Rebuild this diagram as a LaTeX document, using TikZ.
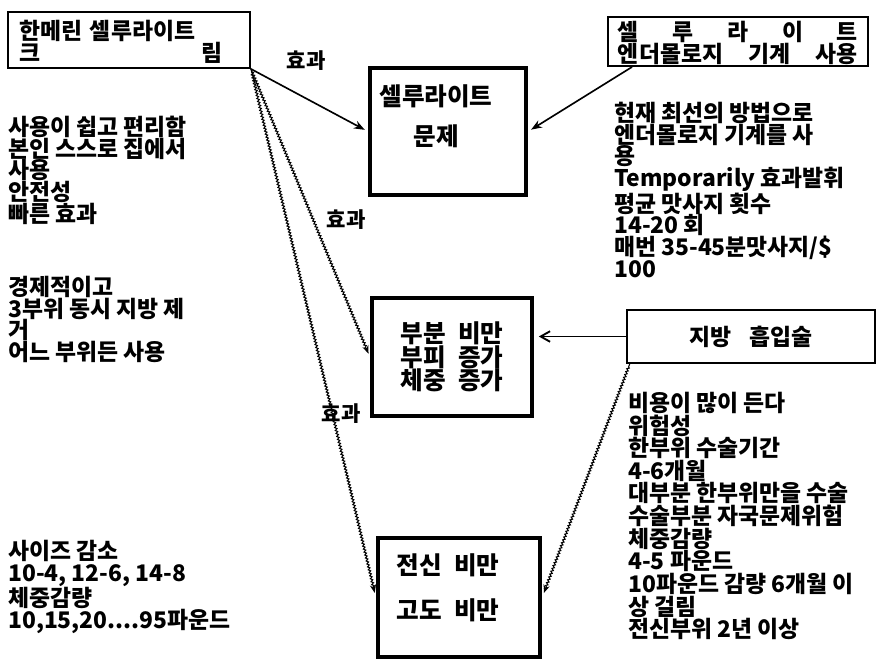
\documentclass[tikz,border=0pt]{standalone}
\usepackage{fontspec}
\setmainfont{Noto Sans CJK KR}
\usetikzlibrary{arrows.meta, decorations.pathmorphing}

\begin{document}
\begin{tikzpicture}[
    x=0.03cm, y=-0.03cm, >=Stealth,
    body/.style={anchor=north west, align=left, inner sep=0pt,
                 font=\fontsize{19.5}{18.5}\selectfont\bfseries},
    thinbox/.style={draw, line width=1.6pt, inner sep=0pt},
    heavybox/.style={draw, line width=3.6pt, inner sep=0pt},
    boxtext/.style={align=center, inner sep=0pt,
                    font=\fontsize{21}{20}\selectfont\bfseries},
    jagged/.style={->, line width=0.9pt, decorate,
                   decoration={zigzag, amplitude=0.9pt, segment length=2.6pt,
                               pre length=3pt, post length=7pt}},
    effect/.style={inner sep=0pt, font=\fontsize{18}{18}\selectfont\bfseries}
  ]
  \useasboundingbox (0,0) rectangle (883,663);

  % boxes along the top
  \node[thinbox, minimum width=7.26cm, minimum height=1.68cm] (creambox)
    at (129,40) {};
  \node[body, anchor=center, text width=6.1cm] (creamtext) at (121,42)
    {한메린 셀루라이트\\크\hfill 림};
  \node[thinbox, minimum width=7.8cm, minimum height=1.47cm] (endobox)
    at (738,41.5) {};
  \node[body, anchor=center, text width=7.2cm] (endotext) at (738,43)
    {셀\hfill 루\hfill 라\hfill 이\hfill 트\\엔더몰로지\hfill 기계\hfill 사용};

  % the three problems
  \node[heavybox, minimum width=4.68cm, minimum height=3.81cm] (probbox)
    at (448,131.5) {};
  \node[boxtext] (probtext) at (436,116) {셀루라이트\\[14pt]문제};
  \node[heavybox, boxtext, minimum width=4.8cm, minimum height=3.54cm]
    (gainbox) at (452,357) {부분\enspace 비만\\부피\enspace 증가\\체중\enspace 증가};
  \node[heavybox, minimum width=4.86cm, minimum height=3.57cm] (wholebox)
    at (459,597.5) {};
  \node[boxtext] (wholetext) at (448,588) {전신\enspace 비만\\[18pt]고도\enspace 비만};

  \node[thinbox, line width=1.2pt, minimum width=7.44cm, minimum height=1.59cm,
        font=\fontsize{19.5}{18.5}\selectfont\bfseries] (fatbox) at (751,336.5)
    {지방\hspace{0.8em}흡입술\hspace{0.5cm}};

  % notes
  \node[body] (usenote) at (8,116)
    {사용이 쉽고 편리함\\본인 스스로 집에서\\사용\\안전성\\빠른 효과};
  \node[body] (econnote) at (8,276)
    {경제적이고\\3부위 동시 지방 제\\거\\어느 부위든 사용};
  \node[body] (sizenote) at (8,540)
    {사이즈 감소\\10-4, 12-6, 14-8\\체중감량\\10,15,20....95파운드};
  \node[body] (endonote) at (614,102)
    {현재 최선의 방법으로\\엔더몰로지 기계를 사\\용\\Temporarily 효과발휘\\
     평균 맛사지 횟수\\14-20 회\\매번 35-45분맛사지/\$\\100};
  \node[body, font=\fontsize{19.5}{19.3}\selectfont\bfseries] (fatnote) at (628,392)
    {비용이 많이 든다\\위험성\\한부위 수술기간\\4-6개월\\대부분 한부위만을 수술\\
     수술부분 자국문제위험\\체중감량\\4-5 파운드\\10파운드 감량 6개월 이\\
     상 걸림\\전신부위 2년 이상};

  \node[effect] (effA) at (306,61) {효과};
  \node[effect] (effB) at (346,220) {효과};
  \node[effect] (effC) at (341,414) {효과};

  % connectors
  \draw[->, line width=1.4pt, shorten >=3pt] (creambox.south east) -- (probbox.west);
  \draw[jagged, shorten >=3pt] (creambox.south east) -- (gainbox.west);
  \draw[jagged, shorten >=4pt] (creambox.south east) -- (wholebox.west);
  \draw[->, line width=1.4pt, shorten >=3pt]
    ([xshift=0.75cm]endobox.south west) -- (probbox.east);
  \draw[-{Straight Barb[length=8pt, width=9pt]}, line width=1.6pt, shorten >=4pt]
    (fatbox.west) -- (fatbox.west -| gainbox.east);
  \draw[jagged, shorten >=4pt] ([xshift=3pt]fatbox.south west) -- (wholebox.east);
\end{tikzpicture}
\end{document}
